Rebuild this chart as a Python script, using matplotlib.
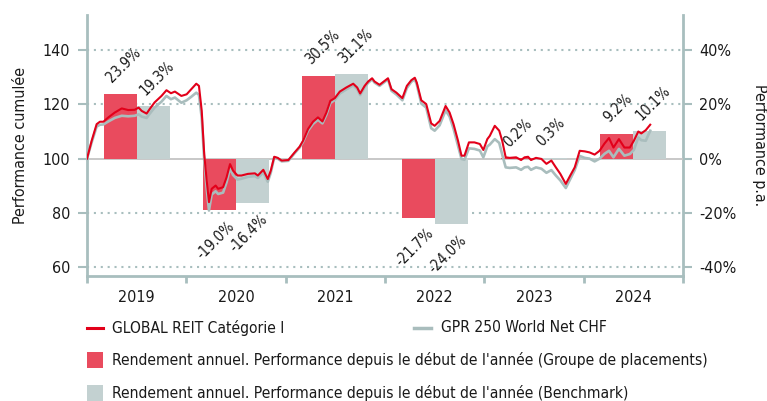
import matplotlib
matplotlib.use('Agg')
import matplotlib.pyplot as plt
from matplotlib.lines import Line2D
from matplotlib.patches import Rectangle

plt.rcParams['font.family'] = ['DejaVu Sans']
plt.rcParams['font.stretch'] = 'condensed'

# ---------------- data ----------------
years = [2019, 2020, 2021, 2022, 2023, 2024]
fund_annual = [23.9, -19.0, 30.5, -21.7, 0.2, 9.2]
bench_annual = [19.3, -16.4, 31.1, -24.0, 0.3, 10.1]

t = [2019.000, 2019.047, 2019.097, 2019.130, 2019.165, 2019.215, 2019.280, 2019.350,
     2019.415, 2019.480, 2019.520, 2019.550, 2019.600, 2019.630, 2019.680, 2019.750,
     2019.800, 2019.845, 2019.885, 2019.950, 2020.003, 2020.050, 2020.100, 2020.127,
     2020.155, 2020.180, 2020.205, 2020.228, 2020.255, 2020.295, 2020.320, 2020.370,
     2020.405, 2020.440, 2020.470, 2020.515, 2020.555, 2020.620, 2020.690, 2020.720,
     2020.775, 2020.820, 2020.850, 2020.885, 2020.920, 2020.960, 2021.027, 2021.090,
     2021.140, 2021.175, 2021.225, 2021.275, 2021.325, 2021.370, 2021.410, 2021.450,
     2021.495, 2021.545, 2021.610, 2021.680, 2021.720, 2021.750, 2021.795, 2021.830,
     2021.870, 2021.895, 2021.945, 2021.995, 2022.030, 2022.065, 2022.115, 2022.175,
     2022.220, 2022.265, 2022.300, 2022.320, 2022.365, 2022.415, 2022.465, 2022.500,
     2022.550, 2022.610, 2022.650, 2022.690, 2022.735, 2022.770, 2022.800, 2022.845,
     2022.900, 2022.955, 2022.990, 2023.030, 2023.055, 2023.105, 2023.150, 2023.180,
     2023.215, 2023.255, 2023.320, 2023.370, 2023.405, 2023.440, 2023.470, 2023.520,
     2023.575, 2023.625, 2023.675, 2023.720, 2023.765, 2023.820, 2023.865, 2023.910,
     2023.960, 2024.010, 2024.060, 2024.110, 2024.160, 2024.210, 2024.255, 2024.300,
     2024.355, 2024.410, 2024.465, 2024.505, 2024.550, 2024.580, 2024.625, 2024.670]

fund_cum = [100.0, 106.6, 112.7, 113.6, 113.6, 115.2, 117.0, 118.5,
            117.9, 118.0, 118.8, 117.6, 116.6, 118.2, 120.7, 123.1,
            125.2, 124.1, 124.7, 123.1, 123.7, 125.6, 127.6, 126.8,
            117.6, 101.7, 91.9, 84.0, 88.9, 90.1, 88.9, 89.5,
            93.1, 98.0, 95.6, 93.8, 93.8, 94.4, 94.6, 93.8,
            95.9, 92.5, 95.6, 100.7, 100.3, 99.3, 99.5, 102.3,
            104.4, 106.6, 110.9, 113.6, 115.2, 113.7, 117.0, 121.3,
            122.3, 124.7, 126.2, 127.6, 126.2, 124.0, 126.8, 128.4,
            129.6, 128.4, 127.2, 128.6, 129.6, 125.6, 124.3, 122.3,
            126.8, 128.9, 129.8, 128.0, 121.5, 120.1, 113.0, 112.1,
            113.9, 119.4, 117.0, 112.7, 106.6, 101.1, 101.1, 106.0,
            106.0, 105.4, 103.2, 107.2, 108.4, 112.1, 110.3, 106.6,
            100.5, 100.3, 100.5, 99.5, 100.5, 100.7, 99.5, 100.3,
            99.9, 98.1, 99.3, 96.8, 94.4, 90.7, 93.8, 96.8,
            102.9, 102.7, 102.3, 101.5, 102.9, 105.6, 107.6, 104.1,
            107.2, 104.1, 104.1, 106.6, 110.0, 109.3, 110.5, 112.5]

bench_cum = [100.0, 106.0, 111.8, 112.5, 112.6, 113.7, 115.0, 115.8,
             115.6, 115.8, 116.3, 115.5, 115.0, 116.5, 118.8, 121.0,
             123.1, 121.9, 122.5, 120.6, 121.5, 122.8, 124.3, 123.5,
             115.0, 99.5, 89.0, 80.9, 86.8, 88.0, 87.0, 87.5,
             91.3, 96.5, 94.0, 92.3, 92.6, 93.3, 93.6, 92.9,
             94.9, 91.5, 94.8, 100.5, 100.0, 99.0, 99.2, 102.0,
             104.1, 106.2, 110.3, 112.8, 114.3, 113.0, 116.2, 120.5,
             121.6, 124.0, 125.5, 127.0, 125.6, 123.4, 126.3, 127.9,
             129.2, 128.0, 126.8, 128.2, 129.2, 125.0, 123.6, 121.5,
             126.0, 128.3, 129.2, 127.3, 120.3, 118.8, 111.2, 110.3,
             112.3, 117.8, 115.5, 111.0, 104.8, 99.9, 99.6, 103.8,
             103.6, 103.0, 100.5, 104.5, 105.2, 107.2, 105.8, 101.5,
             96.8, 96.6, 96.8, 95.9, 96.8, 97.0, 95.9, 96.8,
             96.3, 94.8, 95.8, 93.8, 92.0, 89.2, 92.5, 95.8,
             101.0, 100.3, 100.0, 99.0, 100.0, 101.8, 102.9, 100.5,
             103.6, 101.1, 101.7, 103.2, 107.8, 106.8, 106.6, 110.3]

y_ticks = [60, 80, 100, 120, 140]
pct_ticks = [-40, -20, 0, 20, 40]
fund_label = "GLOBAL REIT Catégorie I"
bench_label = "GPR 250 World Net CHF"
fund_bar_label = "Rendement annuel. Performance depuis le début de l'année (Groupe de placements)"
bench_bar_label = "Rendement annuel. Performance depuis le début de l'année (Benchmark)"

# ---------------- style ----------------
RED_LINE = '#E2001A'
RED_BAR = '#E94B5E'
GRAY_LINE = '#A9BDBD'
GRAY_BAR = '#C3D1D1'
SPINE = '#A8BEBE'
TXT = '#1a1a1a'
FS = 11.5
LFS = 11.2

W, H = 767, 401
fig = plt.figure(figsize=(W / 100, H / 100), dpi=100)
ax = fig.add_axes([87 / W, 1 - 276 / H, (683 - 87) / W, (276 - 15) / H])
ax.set_xlim(2019, 2025)
ax.set_ylim(56.8, 152.9)


def fx(px):
    return px / W


def fy(py):
    return 1 - py / H


# grid
for yv in y_ticks:
    if yv == 100:
        ax.axhline(yv, color='#C4C4C4', lw=1.3, zorder=1)
    else:
        ax.axhline(yv, color=SPINE, lw=1.5, ls=(0, (1, 2.3)), zorder=1)

# bars
bw = 1 / 3
for yr, fv, bv in zip(years, fund_annual, bench_annual):
    xr = yr + 1 / 6
    xg = yr + 0.5
    ax.bar(xr, fv, width=bw, bottom=100, align='edge', color=RED_BAR, zorder=2, lw=0)
    ax.bar(xg, bv, width=bw, bottom=100, align='edge', color=GRAY_BAR, zorder=2, lw=0)
    for x0, v in ((xr, fv), (xg, bv)):
        if v >= 0:
            ax.annotate(f"{v:.1f}%", (x0, 100 + v), xytext=(0, 6), textcoords='offset points',
                        ha='left', va='bottom', rotation=45, fontsize=10.5, color=TXT, zorder=5)
        else:
            ax.annotate(f"{v:.1f}%", (x0 + bw, 100 + v), xytext=(1, -6), textcoords='offset points',
                        ha='right', va='top', rotation=45, fontsize=10.5, color=TXT, zorder=5)

# lines
ax.plot(t, bench_cum, color=GRAY_LINE, lw=1.9, zorder=3, solid_joinstyle='round')
ax.plot(t, fund_cum, color=RED_LINE, lw=1.5, zorder=4, solid_joinstyle='round')

# spines
for s in ('top', 'right'):
    ax.spines[s].set_visible(False)
for s in ('left', 'bottom'):
    ax.spines[s].set_color(SPINE)
    ax.spines[s].set_linewidth(2)

# x ticks
ax.set_xticks(list(range(2019, 2026)))
ax.set_xticklabels([])
ax.set_xticks([y + 0.5 for y in years], minor=True)
ax.set_xticklabels([str(y) for y in years], minor=True)
ax.tick_params(axis='x', which='major', length=5, width=2, color=SPINE, direction='out')
ax.tick_params(axis='x', which='minor', length=0, pad=10, labelsize=FS, labelcolor=TXT)

# left y
ax.set_yticks(y_ticks)
ax.set_yticklabels([str(v) for v in y_ticks])
ax.tick_params(axis='y', length=6.5, width=1.5, color=SPINE, pad=5.5, labelsize=FS, labelcolor=TXT)
fig.text(fx(21), fy(145), "Performance cumulée", fontsize=FS, color=TXT,
         rotation=90, ha='center', va='center')

# right y
sec = ax.secondary_yaxis('right', functions=(lambda v: v - 100, lambda p: p + 100))
sec.set_yticks(pct_ticks)
sec.set_yticklabels([f"{p}%" for p in pct_ticks])
sec.tick_params(axis='y', length=6.5, width=1.5, color=SPINE, pad=5, labelsize=FS, labelcolor=TXT)
sec.spines['right'].set_color(SPINE)
sec.spines['right'].set_linewidth(2)
fig.text(fx(759), fy(145), "Performance p.a.", fontsize=FS, color=TXT,
         rotation=-90, ha='center', va='center')

# legend (manual, in figure pixel coordinates)
fig.add_artist(Line2D([fx(87), fx(103)], [fy(328), fy(328)], color=RED_LINE, lw=2.2))
fig.text(fx(112), fy(328), fund_label, fontsize=LFS, color=TXT, va='center', ha='left')
fig.add_artist(Line2D([fx(414), fx(431)], [fy(328), fy(328)], color=GRAY_LINE, lw=2.5))
fig.text(fx(441), fy(328), bench_label, fontsize=LFS, color=TXT, va='center', ha='left')
fig.add_artist(Rectangle((fx(87), fy(368)), 16 / W, 16 / H, color=RED_BAR, lw=0))
fig.text(fx(112), fy(360), fund_bar_label, fontsize=LFS, color=TXT, va='center', ha='left')
fig.add_artist(Rectangle((fx(87), fy(401)), 16 / W, 16 / H, color=GRAY_BAR, lw=0))
fig.text(fx(112), fy(393), bench_bar_label, fontsize=LFS, color=TXT, va='center', ha='left')

fig.savefig('out.png', dpi=100)
